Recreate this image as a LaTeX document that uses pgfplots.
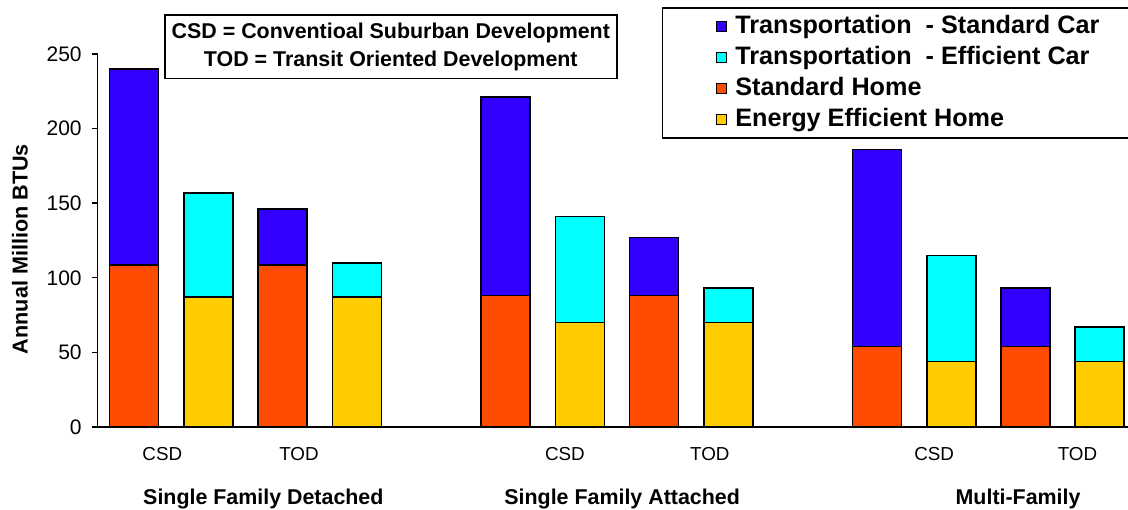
\documentclass[border=0pt]{standalone}
\usepackage{pgfplots}
\pgfplotsset{compat=1.18}
\usepackage{fontspec}
\setmainfont{Liberation Sans}
\definecolor{carstd}{RGB}{51,0,255}
\definecolor{careff}{RGB}{0,255,255}
\definecolor{homestd}{RGB}{255,77,0}
\definecolor{homeeff}{RGB}{255,204,0}
\begin{document}
\begin{tikzpicture}
\begin{axis}[
  scale only axis,
  width=515.15pt, height=186.5pt,
  xmin=-0.49, xmax=13.38, ymin=0, ymax=250,
  clip=false,
  axis x line=bottom, axis y line=left,
  axis line style={-, line width=0.7pt},
  tick align=outside, major tick length=3pt,
  ytick={0,50,...,250},
  ytick style={line width=0.7pt, black},
  xtick={0.38,2.22,5.8,7.75,10.77,12.7},
  xticklabels={CSD,TOD,CSD,TOD,CSD,TOD},
  xtick style={draw=none},
  xticklabel style={font=\fontsize{9.4}{11}\selectfont, yshift=-3.6pt},
  yticklabel style={font=\fontsize{10.5}{12}\selectfont, xshift=-1.5pt},
  /pgf/number format/assume math mode=true,
  ylabel={Annual Million BTUs},
  every axis y label/.style={at={(rel axis cs:0,0.477)}, xshift=-38.85pt, rotate=90, anchor=center,
    font=\bfseries\fontsize{10.8}{12}\selectfont},
  legend style={at={(rel axis cs:0,1)}, anchor=north west, xshift=282pt, yshift=23.5pt,
    draw=black, line width=0.8pt, inner xsep=15pt, inner ysep=3.6pt,
    row sep=4.0pt, column sep=4pt,
    font=\bfseries\fontsize{12.6}{14}\selectfont,
    nodes={inner sep=0pt, text height=9.1pt, text depth=2.4pt},
    cells={anchor=west}},
  legend image code/.code={\path (-11.5pt,0pt); \draw[line width=0.6pt,#1] (0pt,-2.6pt) rectangle (5.2pt,2.6pt);},
]
% totals (car + home) drawn first, home part drawn over them
\addplot[ybar, bar shift=0pt, bar width=24.5pt, fill=carstd, draw=black, line width=0.8pt]
  coordinates {(0,240) (2,146) (5,221) (7,127) (10,186) (12,93)};
\addlegendentry{Transportation\ \ - Standard Car}
\addplot[ybar, bar shift=0pt, bar width=24.5pt, fill=careff, draw=black, line width=0.8pt]
  coordinates {(1,157) (3,110) (6,141) (8,93) (11,115) (13,67)};
\addlegendentry{Transportation\ \ - Efficient Car}
\addplot[ybar, bar shift=0pt, bar width=24.5pt, fill=homestd, draw=black, line width=0.8pt]
  coordinates {(0,108.5) (2,108.5) (5,88) (7,88) (10,54) (12,54)};
\addlegendentry{Standard Home}
\addplot[ybar, bar shift=0pt, bar width=24.5pt, fill=homeeff, draw=black, line width=0.8pt]
  coordinates {(1,87) (3,87) (6,70) (8,70) (11,44) (13,44)};
\addlegendentry{Energy Efficient Home}

\coordinate (A) at (rel axis cs:0,0);
\coordinate (B) at (rel axis cs:1,1);

\node[font=\bfseries\fontsize{10.7}{12}\selectfont, anchor=base, yshift=-39pt] at (axis cs:1.74,0) {Single Family Detached};
\node[font=\bfseries\fontsize{10.7}{12}\selectfont, anchor=base, yshift=-39pt] at (axis cs:6.57,0) {Single Family Attached};
\node[font=\bfseries\fontsize{10.7}{12}\selectfont, anchor=base, yshift=-39pt] at (axis cs:11.9,0) {Multi-Family};

\node[draw=black, line width=0.8pt, minimum width=226pt, minimum height=31.7pt, align=center,
  font=\bfseries\fontsize{10.7}{14}\selectfont, xshift=146.55pt, yshift=3.65pt]
  at (rel axis cs:0,1) {CSD = Conventioal Suburban Development\\TOD = Transit Oriented Development};
\end{axis}
\pgfresetboundingbox
\path ([xshift=-48.85pt,yshift=-41.5pt]A) rectangle ([yshift=27pt]B);
\end{tikzpicture}
\end{document}
